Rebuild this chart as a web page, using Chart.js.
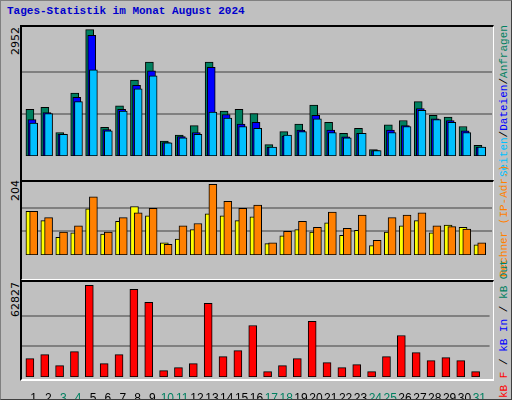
<!DOCTYPE html>
<html><head><meta charset="utf-8">
<script src="https://cdn.jsdelivr.net/npm/chart.js@4/dist/chart.umd.min.js"></script>
<style>
html,body{margin:0;padding:0;background:#C0C0C0;}
#wrap{position:absolute;left:0;top:0;width:510px;height:398px;border:1px solid #808080;border-right-color:#404040;border-bottom-color:#404040;background:#C0C0C0;overflow:hidden;}
.title{position:absolute;left:6px;top:4px;font:bold 11px "Liberation Mono",monospace;color:#0000CC;}
.panel{position:absolute;left:19px;width:471px;border-top:2px solid #000;border-left:2px solid #000;border-right:1px solid #fff;border-bottom:2px solid #fff;}
canvas{position:absolute;}
.ylab{position:absolute;font:11px "DejaVu Sans",sans-serif;color:#000;transform:rotate(-90deg);transform-origin:left top;white-space:nowrap;}
.leg{position:absolute;font:11px "Liberation Mono",monospace;transform:rotate(-90deg);transform-origin:left top;white-space:nowrap;}
</style></head><body>
<div id="wrap">
<div class="title">Tages-Statistik im Monat August 2024</div>
<div class="panel" style="top:24px;height:153px"></div>
<div class="panel" style="top:179px;height:97px"></div>
<div class="panel" style="top:279px;height:97px"></div>
<canvas id="c1" style="left:21px;top:26px"></canvas>
<canvas id="c2" style="left:21px;top:181px"></canvas>
<canvas id="c3" style="left:21px;top:281px"></canvas>
<div class="ylab" style="left:8px;top:54px">2952</div>
<div class="ylab" style="left:8px;top:200px">204</div>
<div class="ylab" style="left:8px;top:316px">62827</div>
<div class="leg" style="left:497px;top:176px"><span style="color:#00C0FF">Seiten</span>/<span style="color:#0000FF">Dateien</span>/<span style="color:#008060">Anfragen</span></div>
<div class="leg" style="left:497px;top:276px"><span style="color:#FF8000">Rechner (IP-Adr.)</span></div>
<div class="leg" style="left:497px;top:397px"><span style="color:#FF0000">kB F</span> / <span style="color:#0000FF">kB In</span> / <span style="color:#008060">kB Out</span></div>
</div>
<script>
const days = ["1","2","3","4","5","6","7","8","9","10","11","12","13","14","15","16","17","18","19","20","21","22","23","24","25","26","27","28","29","30","31"];
const weekend = [3,4,10,11,17,18,24,25,31];
const hits  = [1089,1135,548,1469,2952,668,1169,1770,2191,347,488,708,2191,1049,1089,988,267,568,748,1189,788,528,648,147,728,828,1269,948,908,688,247];
const files = [848,1015,514,1369,2818,614,1089,1650,1990,314,454,548,2070,968,748,788,200,468,608,948,608,447,528,127,608,708,1109,868,828,588,207];
const pages = [768,988,508,1269,2010,588,1049,1570,1870,307,427,508,1028,888,688,648,207,488,568,868,548,427,528,127,548,688,1069,848,788,548,207];
const visits= [126,99,51,64,133,60,97,140,113,35,46,73,119,113,99,110,33,55,73,66,93,57,71,27,66,84,99,64,86,80,29];
const sites = [126,108,66,84,168,66,108,122,135,31,84,91,204,155,135,144,35,68,97,80,124,77,115,42,108,115,122,84,82,75,35];
const kbytes= [12611,15363,7796,17426,62827,9172,15363,60075,51133,4357,6420,9172,50445,13987,18114,35311,3669,7796,12611,38063,9860,6420,8484,3669,13987,28433,16738,11235,13299,11235,3669];

const XMIN=0.22, XMAX=31.69;
function pts(arr,off){return arr.map((v,i)=>({x:i+1+off,y:v}));}
function ds(arr,off,color,order){return {data:pts(arr,off),backgroundColor:color,borderColor:'#000',borderWidth:1,borderSkipped:false,barThickness:8,grouped:false,order:order};}
function mk(id,h,datasets,ymax,grids,showX){
  const c=document.getElementById(id); c.width=470; c.height=h;
  new Chart(c,{type:'bar',data:{datasets},
    options:{responsive:false,animation:false,devicePixelRatio:1,
      plugins:{legend:{display:false},tooltip:{enabled:false}},
      layout:{padding:0},
      scales:{
        x:{type:'linear',min:XMIN,max:XMAX,offset:false,display:showX,
           grid:{display:false},border:{display:false},
           afterBuildTicks:s=>{s.ticks=days.map((d,i)=>({value:i+1}));},
           afterFit:s=>{s.height=22;},
           ticks:{autoSkip:false,maxRotation:0,padding:6,font:{family:'Liberation Sans',size:12},
             color:ctx=>weekend.includes(ctx.tick.value)?'#008060':'#000',
             callback:v=>days[v-1]}},
        y:{min:0,max:ymax,display:true,
           afterFit:s=>{s.width=0;},
           afterBuildTicks:s=>{s.ticks=grids.map(v=>({value:v}));},
           ticks:{display:false},border:{display:false},
           grid:{color:'#808080',lineWidth:2,drawTicks:false}}
      }}});
}
mk('c1',151,[ds(hits,-0.25,'#008060',2),ds(files,-0.11,'#0000FF',1),ds(pages,0,'#00C0FF',0)],3012,[984,1968],false);
mk('c2',95,[ds(visits,-0.25,'#FFFF00',1),ds(sites,0,'#FF8000',0)],210.6,[68,136],false);
mk('c3',117,[ds(kbytes,-0.25,'#FF0000',0)],65088,[20942,41885],true);
</script>
</body></html>
